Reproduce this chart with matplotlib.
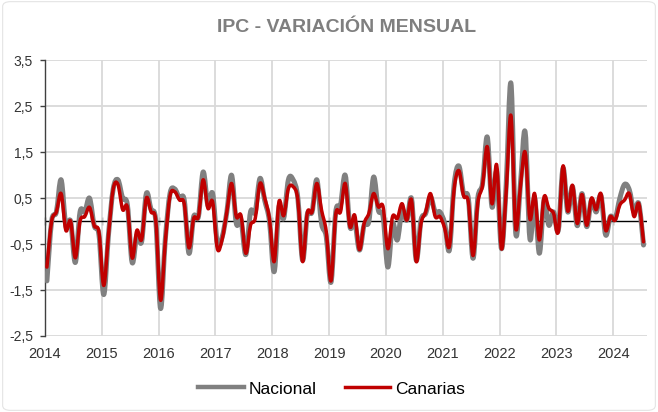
import matplotlib
matplotlib.use("Agg")
import matplotlib.pyplot as plt
from matplotlib.path import Path
from matplotlib.patches import PathPatch, FancyBboxPatch
from matplotlib.lines import Line2D

plt.rcParams["font.family"] = ["Liberation Sans", "DejaVu Sans"]

# Monthly CPI change (%), Jan 2014 .. Jul 2024
start_year = 2014
nacional = [
    -1.3, 0.0, 0.2, 0.9, -0.1, 0.0, -0.9, 0.2, 0.2, 0.5, -0.1, -0.3,      # 2014
    -1.6, -0.3, 0.7, 0.9, 0.5, 0.35, -0.9, -0.3, -0.45, 0.6, 0.25, 0.0,   # 2015
    -1.9, -0.4, 0.6, 0.7, 0.5, 0.46, -0.7, 0.1, 0.1, 1.07, 0.35, 0.6,     # 2016
    -0.5, -0.35, 0.2, 1.0, -0.05, 0.02, -0.73, 0.2, 0.2, 0.93, 0.45, 0.0, # 2017
    -1.1, 0.3, 0.06, 0.9, 0.9, 0.5, -0.85, 0.15, 0.2, 0.9, -0.05, -0.34,  # 2018
    -1.33, 0.2, 0.35, 1.0, -0.12, 0.0, -0.63, -0.08, 0.0, 0.96, 0.24, 0.1,  # 2019
    -1.0, -0.05, -0.41, 0.24, 0.02, 0.49, -0.85, 0.02, 0.17, 0.53, 0.2, 0.2,  # 2020
    -0.05, -0.63, 0.8, 1.2, 0.6, 0.5, -0.81, 0.5, 0.82, 1.83, 0.31, 1.07,   # 2021
    -0.6, 0.8, 3.0, -0.25, 0.8, 1.94, -0.38, 0.5, -0.7, 0.46, -0.09, 0.2,   # 2022
    -0.2, 1.15, 0.2, 0.75, -0.1, 0.6, -0.12, 0.46, 0.2, 0.56, -0.3, 0.1,    # 2023
    0.05, 0.5, 0.8, 0.68, 0.2, 0.38, -0.52,                                  # 2024
]
canarias = [
    -1.0, 0.0, 0.2, 0.6, -0.2, 0.0, -0.8, 0.0, 0.1, 0.3, -0.1, -0.25,     # 2014
    -1.4, -0.3, 0.7, 0.8, 0.25, 0.3, -0.8, -0.2, -0.4, 0.5, 0.2, 0.0,     # 2015
    -1.72, -0.45, 0.55, 0.64, 0.46, 0.38, -0.58, 0.06, 0.1, 0.9, 0.28, 0.42,  # 2016
    -0.6, -0.4, 0.2, 0.82, 0.1, 0.12, -0.7, -0.09, 0.06, 0.82, 0.5, 0.05,   # 2017
    -0.88, 0.42, 0.12, 0.71, 0.75, 0.46, -0.88, 0.18, 0.2, 0.82, 0.24, -0.23,  # 2018
    -1.3, 0.15, 0.2, 0.82, -0.12, 0.13, -0.62, -0.05, 0.17, 0.6, 0.31, 0.31,   # 2019
    -0.6, 0.1, 0.06, 0.38, 0.02, 0.46, -0.88, -0.05, 0.2, 0.6, 0.1, 0.1,       # 2020
    -0.15, -0.55, 0.7, 1.1, 0.55, 0.42, -0.75, 0.4, 0.78, 1.62, 0.38, 1.22,    # 2021
    -0.6, 0.65, 2.3, -0.15, 0.75, 1.5, 0.05, 0.6, -0.41, 0.53, 0.28, 0.17,     # 2022
    -0.23, 1.2, 0.22, 0.78, -0.05, 0.58, -0.09, 0.5, 0.25, 0.6, -0.2, 0.1,     # 2023
    0.02, 0.35, 0.46, 0.6, 0.1, 0.38, -0.45,                                    # 2024
]
years = list(range(2014, 2025))
yticks = [-2.5, -1.5, -0.5, 0.5, 1.5, 2.5, 3.5]

x = [start_year + (i + 0.4) / 12 for i in range(len(nacional))]


def smooth_path(xs, ys):
    # bezier curve through every point, like excel's "smoothed line"
    verts = [(xs[0], ys[0])]
    codes = [Path.MOVETO]
    n = len(xs)
    for k in range(n - 1):
        k0 = max(k - 1, 0)
        k3 = min(k + 2, n - 1)
        c1 = (xs[k] + (xs[k + 1] - xs[k0]) / 6, ys[k] + (ys[k + 1] - ys[k0]) / 6)
        c2 = (xs[k + 1] - (xs[k3] - xs[k]) / 6, ys[k + 1] - (ys[k3] - ys[k]) / 6)
        verts += [c1, c2, (xs[k + 1], ys[k + 1])]
        codes += [Path.CURVE4] * 3
    return Path(verts, codes)


fig = plt.figure(figsize=(6.58, 4.12), dpi=100)
ax = fig.add_axes([0.0684, 0.1845, 0.9145, 0.669])

gray = "#808080"
red = "#c00000"
ax.add_patch(PathPatch(smooth_path(x, nacional), fill=False, edgecolor=gray,
                       lw=3.6, capstyle="round", joinstyle="round", zorder=3))
ax.add_patch(PathPatch(smooth_path(x, canarias), fill=False, edgecolor=red,
                       lw=2.5, capstyle="round", joinstyle="round", zorder=4))

ymin, ymax = -2.5, 3.5
ax.set_xlim(2014, 2024.59)
ax.set_ylim(ymin, ymax)
ax.set_yticks(yticks)
ax.set_yticklabels([f"{v:.1f}".replace(".", ",") for v in yticks])
ax.set_xticks(years)
ax.set_xticklabels([str(y) for y in years])

ax.grid(True, color="#d9d9d9", lw=1.3, zorder=0)
ax.set_axisbelow(True)
for s in ["top", "right", "bottom"]:
    ax.spines[s].set_visible(False)
ax.spines["left"].set_color("#404040")
ax.spines["left"].set_linewidth(1.0)
ax.tick_params(axis="y", length=3.6, width=1.0, color="#404040", pad=5,
               labelsize=10, labelcolor="#333333")
ax.tick_params(axis="x", length=0, pad=8, labelsize=10.5, labelcolor="#333333")

# zero line with year ticks crossing it
ax.axhline(0, color="black", lw=1.0, zorder=2)
sec = ax.secondary_xaxis((0 - ymin) / (ymax - ymin))
sec.set_xticks(years)
sec.set_xticklabels([])
sec.tick_params(direction="inout", length=6, width=0.9, color="black")
sec.spines["bottom"].set_visible(False)
sec.spines["top"].set_visible(False)

fig.text(0.527, 0.933, "IPC - VARIACIÓN MENSUAL", ha="center", va="center",
         fontsize=14, fontweight="bold", color="#7f7f7f")

handles = [Line2D([], [], color=gray, lw=3.2), Line2D([], [], color=red, lw=2.5)]
fig.legend(handles, ["Nacional", "Canarias"], loc="center",
           bbox_to_anchor=(0.504, 0.056), ncol=2, frameon=False,
           fontsize=12.5, handlelength=2.6, handletextpad=0.3,
           columnspacing=1.6)

fig.patches.append(FancyBboxPatch((0.004, 0.004), 0.992, 0.992,
                                  boxstyle="round,pad=0,rounding_size=0.012",
                                  transform=fig.transFigure, fill=False,
                                  edgecolor="#e4e4e4", lw=0.8))

fig.savefig("out.png", dpi=100)
